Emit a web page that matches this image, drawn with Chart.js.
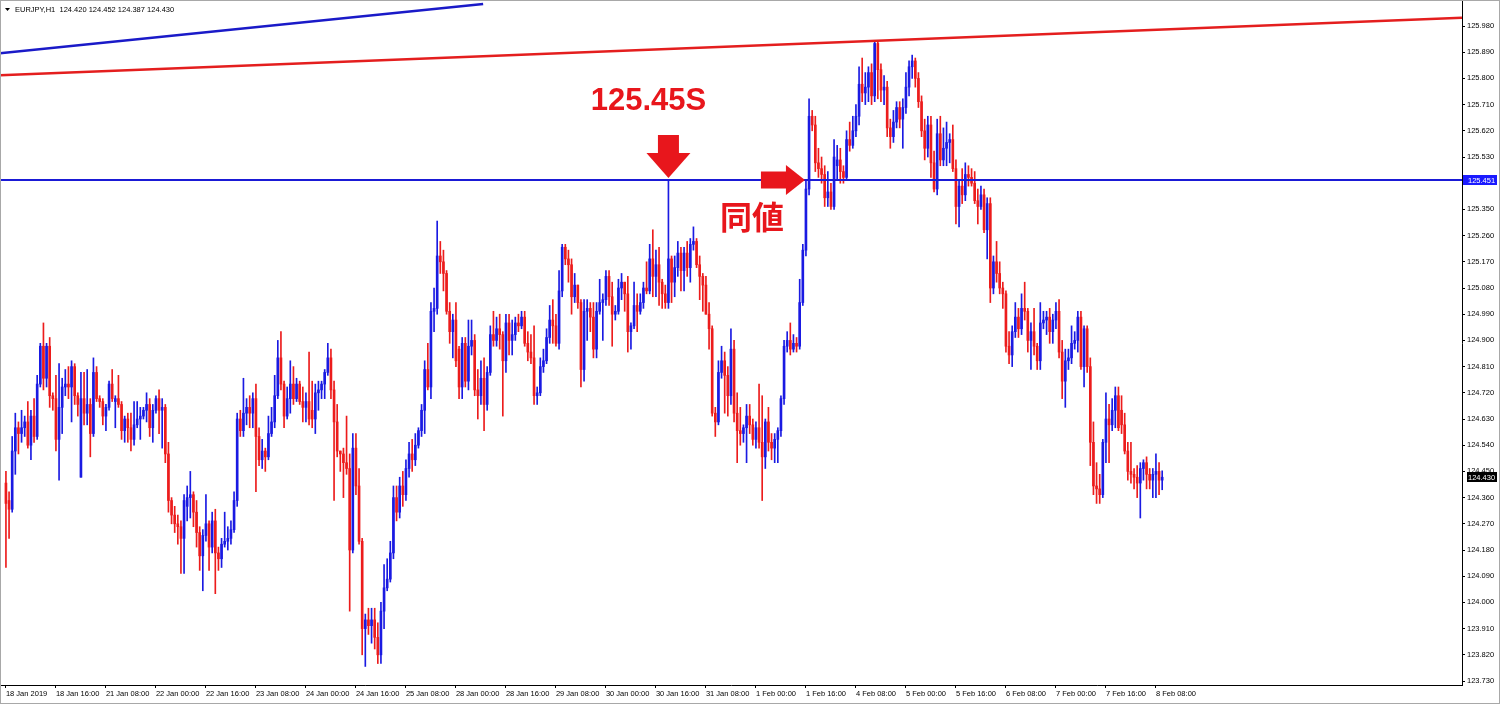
<!DOCTYPE html>
<html>
<head>
<meta charset="utf-8">
<title>EURJPY,H1</title>
<script src="https://cdn.jsdelivr.net/npm/chart.js@4.4.1/dist/chart.umd.min.js"></script>
<style>
  html, body { margin: 0; padding: 0; background: #fff; }
  canvas { display: block; }
</style>
</head>
<body>
<canvas id="chart" width="1500" height="704"></canvas>
<script>
// EURJPY H1, 18 Jan 2019 00:00 -> 8 Feb 2019 10:00 (371 bars)
const opens = [
  124.41,124.35,124.32,124.52,124.60,124.58,124.60,124.62,124.54,124.64,
  124.57,124.75,124.88,124.77,124.88,124.71,124.70,124.56,124.67,124.74,
  124.75,124.74,124.81,124.71,124.43,124.70,124.65,124.68,124.58,124.79,
  124.70,124.69,124.64,124.67,124.75,124.69,124.70,124.68,124.59,124.63,
  124.60,124.56,124.61,124.63,124.64,124.66,124.68,124.60,124.66,124.70,
  124.66,124.67,124.51,124.35,124.30,124.27,124.26,124.22,124.33,124.36,
  124.37,124.31,124.24,124.16,124.23,124.27,124.19,124.28,124.17,124.15,
  124.20,124.21,124.22,124.25,124.35,124.63,124.59,124.65,124.67,124.65,
  124.70,124.57,124.49,124.52,124.50,124.58,124.62,124.71,124.84,124.75,
  124.64,124.70,124.75,124.70,124.75,124.69,124.67,124.69,124.66,124.63,
  124.72,124.73,124.75,124.79,124.84,124.73,124.62,124.52,124.51,124.48,
  124.46,124.18,124.53,124.40,124.21,123.91,123.94,123.92,123.94,123.88,
  123.82,123.97,124.05,124.08,124.17,124.36,124.31,124.40,124.37,124.46,
  124.51,124.49,124.54,124.59,124.66,124.80,124.74,125.00,125.01,125.19,
  125.17,125.13,125.00,124.93,124.97,124.87,124.74,124.89,124.76,124.88,
  124.90,124.73,124.71,124.77,124.68,124.79,124.92,124.90,124.94,124.92,
  124.83,124.96,124.90,124.92,124.96,124.95,124.98,124.89,124.86,124.84,
  124.71,124.72,124.81,124.83,124.91,124.97,124.95,124.89,125.07,125.22,
  125.18,125.16,125.05,125.09,125.03,124.80,125.00,125.01,124.98,124.87,
  125.00,125.03,125.04,125.12,125.05,124.99,125.00,125.08,125.10,125.06,
  124.93,124.95,125.02,125.00,125.03,125.08,125.07,125.18,125.12,125.16,
  125.10,125.06,125.03,125.18,125.10,125.15,125.20,125.14,125.20,125.15,
  125.23,125.24,125.16,125.12,125.09,124.99,124.94,124.65,124.62,124.79,
  124.83,124.78,124.71,124.87,124.65,124.59,124.58,124.60,124.64,124.61,
  124.56,124.60,124.55,124.50,124.62,124.55,124.53,124.56,124.59,124.70,
  124.88,124.90,124.87,124.89,124.88,125.03,125.21,125.42,125.67,125.64,
  125.51,125.49,125.47,125.39,125.41,125.36,125.50,125.52,125.48,125.46,
  125.59,125.57,125.62,125.67,125.78,125.75,125.77,125.82,125.74,125.92,
  125.83,125.76,125.77,125.63,125.60,125.65,125.70,125.66,125.70,125.77,
  125.84,125.86,125.80,125.72,125.62,125.56,125.64,125.51,125.42,125.61,
  125.52,125.56,125.58,125.59,125.49,125.36,125.43,125.40,125.47,125.46,
  125.44,125.38,125.36,125.40,125.28,125.37,125.08,125.17,125.13,125.08,
  125.06,124.88,124.85,124.93,124.98,124.94,125.01,125.00,124.90,124.93,
  124.88,124.83,124.96,124.97,124.98,124.93,124.97,125.00,124.86,124.76,
  124.83,124.84,124.89,124.90,124.98,124.81,124.94,124.81,124.55,124.40,
  124.39,124.37,124.55,124.63,124.61,124.66,124.71,124.66,124.61,124.52,
  124.45,124.44,124.43,124.41,124.46,124.48,124.44,124.42,124.44,124.45,
  124.420
];
const highs = [
  124.45,124.38,124.57,124.65,124.62,124.66,124.64,124.69,124.66,124.70,
  124.78,124.89,124.96,124.89,124.91,124.72,124.78,124.82,124.77,124.80,
  124.81,124.83,124.82,124.72,124.79,124.79,124.80,124.70,124.84,124.81,
  124.71,124.70,124.68,124.76,124.80,124.71,124.78,124.69,124.64,124.65,
  124.65,124.69,124.69,124.67,124.67,124.72,124.70,124.68,124.71,124.73,
  124.70,124.68,124.55,124.36,124.33,124.30,124.28,124.37,124.40,124.45,
  124.38,124.35,124.26,124.25,124.37,124.28,124.31,124.32,124.19,124.22,
  124.31,124.26,124.28,124.38,124.65,124.66,124.77,124.70,124.71,124.72,
  124.75,124.60,124.56,124.53,124.64,124.67,124.78,124.90,124.93,124.76,
  124.74,124.83,124.81,124.77,124.76,124.74,124.72,124.86,124.76,124.75,
  124.76,124.76,124.80,124.89,124.87,124.76,124.68,124.52,124.53,124.64,
  124.51,124.58,124.58,124.46,124.22,123.96,123.98,123.98,123.98,123.93,
  124.00,124.13,124.15,124.21,124.40,124.40,124.43,124.45,124.49,124.55,
  124.56,124.58,124.60,124.68,124.83,124.89,125.03,125.08,125.31,125.24,
  125.21,125.14,125.03,124.99,125.03,124.88,124.91,124.91,124.97,124.97,
  124.92,124.80,124.83,124.84,124.81,124.95,125.00,124.98,124.99,124.93,
  124.99,124.99,124.97,124.98,124.99,125.00,125.00,124.93,124.92,124.95,
  124.74,124.84,124.87,124.94,125.02,125.04,124.99,125.14,125.23,125.23,
  125.21,125.18,125.13,125.09,125.04,125.04,125.04,125.03,125.03,125.03,
  125.11,125.06,125.14,125.14,125.10,125.02,125.11,125.13,125.10,125.12,
  124.96,125.10,125.06,125.06,125.10,125.17,125.23,125.28,125.21,125.22,
  125.11,125.09,125.451,125.19,125.19,125.24,125.22,125.22,125.24,125.25,
  125.29,125.25,125.19,125.13,125.12,125.03,124.95,124.67,124.83,124.88,
  124.86,124.81,124.94,124.90,124.72,124.67,124.61,124.68,124.68,124.63,
  124.62,124.75,124.71,124.63,124.67,124.58,124.58,124.60,124.71,124.90,
  124.93,124.96,124.92,124.91,125.11,125.23,125.451,125.73,125.69,125.67,
  125.56,125.53,125.50,125.48,125.44,125.59,125.57,125.56,125.50,125.62,
  125.65,125.67,125.71,125.84,125.87,125.82,125.84,125.85,125.93,125.93,
  125.85,125.81,125.79,125.66,125.69,125.72,125.72,125.73,125.82,125.86,
  125.88,125.87,125.82,125.74,125.66,125.67,125.67,125.55,125.66,125.67,
  125.63,125.65,125.61,125.64,125.52,125.45,125.49,125.51,125.50,125.49,
  125.48,125.42,125.43,125.42,125.39,125.39,125.19,125.24,125.17,125.10,
  125.07,124.93,124.95,125.03,125.01,125.06,125.10,125.01,124.96,125.01,
  124.89,125.03,125.00,125.00,125.01,124.99,125.03,125.04,124.90,124.87,
  124.87,124.95,124.93,125.00,125.00,124.95,124.95,124.84,124.62,124.48,
  124.44,124.56,124.72,124.68,124.70,124.74,124.74,124.71,124.65,124.55,
  124.55,124.46,124.47,124.48,124.49,124.50,124.46,124.46,124.51,124.48,
  124.452
];
const lows = [
  124.12,124.22,124.31,124.44,124.51,124.55,124.57,124.53,124.49,124.55,
  124.56,124.74,124.73,124.74,124.67,124.66,124.52,124.42,124.58,124.71,
  124.70,124.62,124.68,124.64,124.43,124.61,124.61,124.50,124.57,124.69,
  124.67,124.61,124.59,124.66,124.69,124.60,124.67,124.56,124.55,124.55,
  124.52,124.54,124.60,124.56,124.63,124.62,124.57,124.55,124.65,124.58,
  124.53,124.48,124.31,124.27,124.24,124.20,124.10,124.10,124.28,124.29,
  124.26,124.19,124.11,124.04,124.21,124.11,124.17,124.03,124.11,124.12,
  124.19,124.18,124.20,124.24,124.33,124.57,124.57,124.61,124.60,124.60,
  124.38,124.47,124.46,124.45,124.49,124.57,124.60,124.70,124.73,124.60,
  124.63,124.65,124.68,124.69,124.68,124.62,124.62,124.61,124.60,124.58,
  124.66,124.70,124.70,124.78,124.70,124.35,124.50,124.45,124.36,124.44,
  123.97,124.17,124.37,124.20,123.82,123.78,123.89,123.86,123.84,123.79,
  123.79,123.91,124.04,124.07,124.15,124.28,124.29,124.33,124.35,124.43,
  124.45,124.47,124.53,124.57,124.58,124.73,124.70,124.93,124.99,125.13,
  125.07,124.99,124.89,124.84,124.81,124.70,124.70,124.74,124.73,124.85,
  124.71,124.63,124.68,124.59,124.66,124.78,124.88,124.88,124.87,124.64,
  124.79,124.85,124.85,124.90,124.93,124.94,124.88,124.83,124.82,124.68,
  124.68,124.71,124.79,124.82,124.89,124.89,124.88,124.87,125.05,125.16,
  125.10,124.99,125.03,125.01,124.74,124.76,124.90,124.93,124.84,124.84,
  124.99,124.90,125.02,125.02,124.88,124.97,124.99,125.04,125.00,124.86,
  124.87,124.94,124.93,124.99,125.01,125.06,125.06,125.05,125.05,125.02,
  125.01,125.01,125.01,125.03,125.05,125.12,125.07,125.07,125.12,125.10,
  125.21,125.15,125.04,125.00,124.99,124.87,124.64,124.57,124.61,124.77,
  124.65,124.64,124.68,124.62,124.48,124.54,124.55,124.48,124.58,124.54,
  124.53,124.53,124.35,124.46,124.52,124.49,124.48,124.48,124.57,124.68,
  124.86,124.85,124.86,124.86,124.87,125.02,125.19,125.40,125.62,125.48,
  125.46,125.44,125.36,125.36,125.35,125.35,125.45,125.44,125.44,125.45,
  125.55,125.56,125.60,125.64,125.72,125.71,125.72,125.71,125.72,125.73,
  125.72,125.71,125.60,125.56,125.58,125.63,125.63,125.56,125.68,125.74,
  125.80,125.77,125.70,125.60,125.52,125.53,125.46,125.41,125.40,125.50,
  125.50,125.50,125.51,125.48,125.30,125.29,125.37,125.38,125.43,125.43,
  125.37,125.30,125.35,125.27,125.18,125.03,125.06,125.10,125.06,125.01,
  124.86,124.82,124.81,124.91,124.91,124.92,124.97,124.86,124.80,124.85,
  124.80,124.80,124.94,124.92,124.89,124.89,124.94,124.84,124.70,124.67,
  124.80,124.82,124.87,124.86,124.80,124.74,124.79,124.47,124.37,124.34,
  124.34,124.36,124.48,124.48,124.59,124.60,124.59,124.58,124.51,124.42,
  124.41,124.39,124.36,124.29,124.42,124.39,124.39,124.36,124.36,124.37,
  124.387
];
const closes = [
  124.34,124.32,124.52,124.60,124.58,124.60,124.62,124.54,124.64,124.57,
  124.75,124.88,124.77,124.88,124.71,124.70,124.56,124.67,124.74,124.75,
  124.74,124.81,124.71,124.68,124.70,124.65,124.68,124.58,124.79,124.70,
  124.69,124.64,124.67,124.75,124.70,124.70,124.68,124.59,124.63,124.60,
  124.56,124.61,124.63,124.64,124.66,124.68,124.60,124.66,124.70,124.66,
  124.67,124.51,124.35,124.30,124.27,124.26,124.22,124.35,124.36,124.37,
  124.31,124.24,124.16,124.23,124.27,124.19,124.28,124.17,124.15,124.20,
  124.21,124.22,124.25,124.35,124.63,124.59,124.65,124.67,124.65,124.70,
  124.57,124.49,124.52,124.50,124.58,124.62,124.71,124.84,124.75,124.64,
  124.70,124.75,124.70,124.75,124.69,124.67,124.69,124.63,124.63,124.72,
  124.73,124.75,124.79,124.84,124.73,124.62,124.52,124.51,124.48,124.46,
  124.18,124.53,124.40,124.21,123.91,123.94,123.92,123.94,123.88,123.82,
  123.97,124.05,124.08,124.17,124.36,124.31,124.40,124.37,124.46,124.51,
  124.49,124.54,124.59,124.66,124.80,124.74,125.00,125.01,125.19,125.17,
  125.13,125.00,124.93,124.97,124.83,124.74,124.89,124.76,124.88,124.90,
  124.73,124.71,124.77,124.68,124.79,124.92,124.90,124.94,124.92,124.83,
  124.96,124.90,124.92,124.96,124.95,124.98,124.89,124.86,124.84,124.71,
  124.72,124.81,124.83,124.91,124.97,124.95,124.89,125.07,125.22,125.18,
  125.16,125.05,125.09,125.03,124.80,125.00,125.01,124.98,124.87,125.00,
  125.03,125.04,125.12,125.05,124.99,125.00,125.08,125.10,125.06,124.93,
  124.95,125.02,125.00,125.03,125.08,125.07,125.18,125.12,125.16,125.10,
  125.06,125.03,125.18,125.10,125.15,125.20,125.14,125.20,125.15,125.23,
  125.24,125.16,125.12,125.09,124.99,124.94,124.65,124.62,124.79,124.83,
  124.78,124.71,124.87,124.65,124.59,124.58,124.60,124.64,124.61,124.56,
  124.60,124.55,124.50,124.62,124.55,124.53,124.56,124.59,124.70,124.88,
  124.90,124.87,124.89,124.88,125.03,125.21,125.42,125.67,125.64,125.51,
  125.49,125.47,125.39,125.41,125.36,125.53,125.52,125.48,125.46,125.59,
  125.57,125.62,125.67,125.78,125.75,125.77,125.82,125.74,125.92,125.83,
  125.76,125.77,125.63,125.60,125.65,125.70,125.66,125.70,125.77,125.84,
  125.86,125.80,125.72,125.62,125.56,125.64,125.51,125.42,125.61,125.52,
  125.56,125.58,125.59,125.49,125.36,125.43,125.40,125.47,125.46,125.44,
  125.38,125.36,125.40,125.28,125.37,125.08,125.17,125.13,125.08,125.06,
  124.88,124.85,124.93,124.98,124.94,125.01,125.00,124.90,124.93,124.88,
  124.83,124.96,124.97,124.98,124.93,124.97,125.00,124.86,124.76,124.83,
  124.84,124.89,124.90,124.98,124.81,124.94,124.81,124.55,124.40,124.39,
  124.37,124.55,124.63,124.61,124.66,124.71,124.60,124.61,124.52,124.45,
  124.44,124.43,124.41,124.46,124.48,124.44,124.42,124.44,124.45,124.42,
  124.430
];

// time axis: one label every 16 bars
const timeLabels = [
  '18 Jan 2019', '18 Jan 16:00', '21 Jan 08:00', '22 Jan 00:00', '22 Jan 16:00', '23 Jan 08:00',
  '24 Jan 00:00', '24 Jan 16:00', '25 Jan 08:00', '28 Jan 00:00', '28 Jan 16:00', '29 Jan 08:00',
  '30 Jan 00:00', '30 Jan 16:00', '31 Jan 08:00', '1 Feb 00:00', '1 Feb 16:00', '4 Feb 08:00',
  '5 Feb 00:00', '5 Feb 16:00', '6 Feb 08:00', '7 Feb 00:00', '7 Feb 16:00', '8 Feb 08:00'
];
// price axis
const priceTicks = [
  123.730, 123.820, 123.910, 124.000, 124.090, 124.180, 124.270, 124.360, 124.450,
  124.540, 124.630, 124.720, 124.810, 124.900, 124.990, 125.080, 125.170, 125.260,
  125.350, 125.440, 125.530, 125.620, 125.710, 125.800, 125.890, 125.980
];

// visible window (bars, price)
const xMin = -1.9, xMax = 465.94;
const yMin = 123.7163, yMax = 126.0659;

// drawn objects (bar index, price)
const levelPrice = 125.451;
const lastPrice = 124.430;
const redTrend = [[xMin, 125.811], [xMax, 126.008]];
const blueTrend = [[xMin, 125.886], [152.7, 126.056]];
const spikeBar = 212;  // 30 Jan 20:00, high 125.45
const retestBar = 256; // 1 Feb 16:00
const headerText = 'EURJPY,H1  124.420 124.452 124.387 124.430';

const upColor = '#1a1ae2';
const downColor = '#ec1c1c';
const candleColors = closes.map((c, i) => c >= opens[i] ? upColor : downColor);
const smallFont = { family: '"Liberation Sans", Arial, sans-serif', size: 7.5 };

const drawings = {
  id: 'drawings',
  beforeDraw(chart) {
    const ctx = chart.ctx;
    ctx.save();
    ctx.fillStyle = '#fff';
    ctx.fillRect(0, 0, chart.width, chart.height);
    ctx.restore();
  },
  afterDatasetsDraw(chart) {
    const { ctx, chartArea: a, scales: { x, y } } = chart;
    ctx.save();
    ctx.beginPath();
    ctx.rect(a.left, a.top, a.right - a.left, a.bottom - a.top);
    ctx.clip();
    const seg = (p, q, color, w) => {
      ctx.strokeStyle = color;
      ctx.lineWidth = w;
      ctx.beginPath();
      ctx.moveTo(x.getPixelForValue(p[0]), y.getPixelForValue(p[1]));
      ctx.lineTo(x.getPixelForValue(q[0]), y.getPixelForValue(q[1]));
      ctx.stroke();
    };
    seg(redTrend[0], redTrend[1], '#e41e1e', 2.5);
    seg(blueTrend[0], blueTrend[1], '#1a1ac8', 2.5);
    const ly = y.getPixelForValue(levelPrice);
    ctx.strokeStyle = '#1a1ad6';
    ctx.lineWidth = 2;
    ctx.beginPath();
    ctx.moveTo(a.left, ly);
    ctx.lineTo(a.right, ly);
    ctx.stroke();
    ctx.restore();

    // arrows + notes
    ctx.save();
    ctx.fillStyle = '#e8161c';
    const dx = x.getPixelForValue(spikeBar);
    const dy = y.getPixelForValue(levelPrice) - 2;
    ctx.fillRect(dx - 10.5, dy - 43, 21, 20);
    ctx.beginPath();
    ctx.moveTo(dx - 22, dy - 25);
    ctx.lineTo(dx + 22, dy - 25);
    ctx.lineTo(dx, dy);
    ctx.closePath();
    ctx.fill();
    ctx.font = 'bold 31px "Liberation Sans", Arial, sans-serif';
    ctx.textAlign = 'center';
    ctx.textBaseline = 'alphabetic';
    ctx.fillText('125.45S', dx - 20, dy - 68);

    const rx = x.getPixelForValue(retestBar) - 1;
    const ry = y.getPixelForValue(levelPrice);
    ctx.fillRect(rx - 44, ry - 8.5, 26, 17);
    ctx.beginPath();
    ctx.moveTo(rx - 19, ry - 15);
    ctx.lineTo(rx - 19, ry + 15);
    ctx.lineTo(rx, ry);
    ctx.closePath();
    ctx.fill();
    ctx.font = 'bold 32px "Noto Sans CJK JP", sans-serif';
    ctx.textBaseline = 'middle';
    ctx.fillText('同値', rx - 53, ry + 37);
    ctx.restore();
  },
  afterDraw(chart) {
    const { ctx, chartArea: a, scales: { y } } = chart;
    ctx.save();
    // price boxes on the axis
    ctx.font = '7.5px "Liberation Sans", Arial, sans-serif';
    ctx.textBaseline = 'middle';
    ctx.textAlign = 'left';
    [[levelPrice, '#1a1aff', a.right + 1], [lastPrice, '#000', a.right + 5]].forEach(([v, bg, left]) => {
      const py = Math.round(y.getPixelForValue(v));
      ctx.fillStyle = bg;
      ctx.fillRect(left, py - 5, 1497 - left, 10);
      ctx.fillStyle = '#fff';
      ctx.fillText(v.toFixed(3), a.right + 6, py + 0.5);
    });
    // header
    ctx.fillStyle = '#000';
    ctx.fillText(headerText, 15, 10);
    ctx.beginPath();
    ctx.moveTo(5, 8);
    ctx.lineTo(10, 8);
    ctx.lineTo(7.5, 11);
    ctx.closePath();
    ctx.fill();
    // window frame
    ctx.strokeStyle = '#a8a8a8';
    ctx.lineWidth = 1;
    ctx.strokeRect(0.5, 0.5, chart.width - 1, chart.height - 1);
    ctx.restore();
  }
};

new Chart(document.getElementById('chart'), {
  type: 'bar',
  data: {
    datasets: [
      {
        label: 'body',
        data: closes.map((c, i) => ({ x: i, y: [opens[i], c] })),
        backgroundColor: candleColors,
        barThickness: 2,
        minBarLength: 1,
        grouped: false,
        order: 1
      },
      {
        label: 'wick',
        data: closes.map((c, i) => ({ x: i, y: [lows[i], highs[i]] })),
        backgroundColor: candleColors,
        barThickness: 1,
        grouped: false,
        order: 2
      }
    ]
  },
  options: {
    responsive: false,
    animation: false,
    layout: { padding: { top: 1, left: 0, right: 0, bottom: 0 } },
    plugins: { legend: { display: false }, tooltip: { enabled: false } },
    scales: {
      x: {
        type: 'linear',
        offset: false,
        min: xMin,
        max: xMax,
        border: { display: true, color: '#000', width: 1 },
        grid: { offset: false, drawOnChartArea: false, drawTicks: true, tickLength: 3, color: '#000' },
        afterBuildTicks: (scale) => { scale.ticks = timeLabels.map((t, k) => ({ value: k * 16 })); },
        afterFit: (scale) => {
          scale.height = 19;
          scale.paddingLeft = 0;
          scale.paddingRight = 0;
        },
        ticks: {
          autoSkip: false,
          maxRotation: 0,
          align: 'start',
          padding: 1,
          color: '#000',
          font: smallFont,
          callback: (v, i) => timeLabels[i]
        }
      },
      y: {
        position: 'right',
        min: yMin,
        max: yMax,
        border: { display: true, color: '#000', width: 1 },
        grid: { drawOnChartArea: false, drawTicks: true, tickLength: 3, color: '#000' },
        afterBuildTicks: (scale) => { scale.ticks = priceTicks.map(v => ({ value: v })); },
        afterFit: (scale) => {
          scale.width = 38;
          scale.paddingTop = 0;
          scale.paddingBottom = 0;
        },
        ticks: {
          padding: 2,
          color: '#000',
          font: smallFont,
          callback: (v) => Number(v).toFixed(3)
        }
      }
    }
  },
  plugins: [drawings]
});
</script>
</body>
</html>
